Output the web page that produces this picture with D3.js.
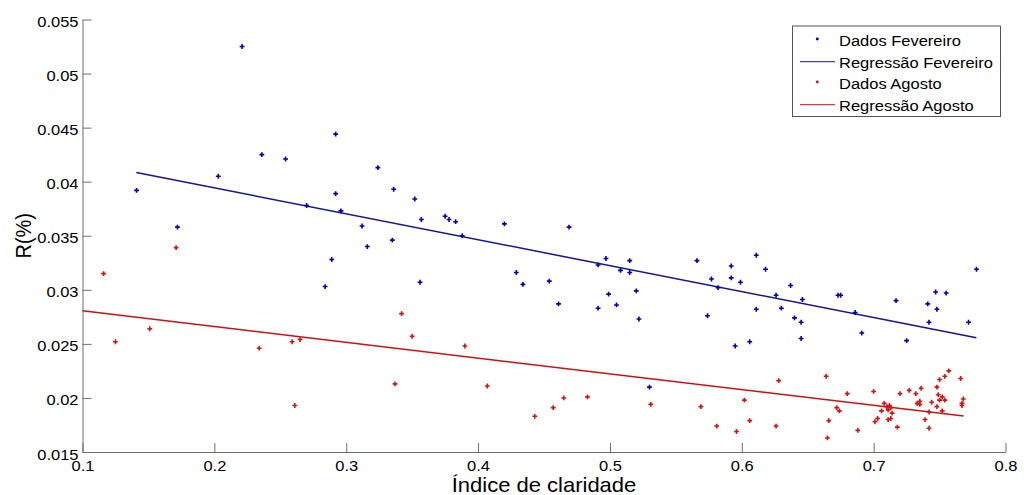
<!DOCTYPE html>
<html>
<head>
<meta charset="utf-8">
<script src="https://cdn.jsdelivr.net/npm/d3@7"></script>
<style>
  html, body { margin: 0; padding: 0; background: #fff; }
  svg { display: block; font-family: "Liberation Sans", Arial, sans-serif; }
</style>
</head>
<body>
<svg id="chart" width="1024" height="495"></svg>
<script>
// ---- Data ----
const febX = [0.221,0.141,0.172,0.203,0.236,0.254,0.292,0.292,0.270,0.296,0.312,0.324,0.336,0.335,0.352,0.357,0.375,0.378,0.383,0.388,0.420,0.469,0.284,0.289,0.316,0.356,0.429,0.434,0.454,0.461,0.491,0.497,0.491,0.499,0.508,0.515,0.515,0.505,0.520,0.522,0.530,0.566,0.577,0.582,0.574,0.611,0.592,0.618,0.592,0.599,0.637,0.626,0.646,0.611,0.630,0.640,0.645,0.645,0.595,0.606,0.673,0.675,0.686,0.691,0.717,0.725,0.747,0.755,0.741,0.748,0.742,0.772,0.778];
const febY = [0.0525,0.0392,0.0358,0.0405,0.0425,0.0421,0.0444,0.0389,0.0378,0.0373,0.0359,0.0413,0.0393,0.0346,0.0384,0.0365,0.0368,0.0365,0.0363,0.0350,0.0361,0.0358,0.0303,0.0328,0.0340,0.0307,0.0316,0.0305,0.0308,0.0287,0.0323,0.0329,0.0283,0.0296,0.0318,0.0327,0.0316,0.0286,0.0299,0.0273,0.0210,0.0327,0.0310,0.0302,0.0276,0.0332,0.0322,0.0319,0.0311,0.0307,0.0304,0.0295,0.0291,0.0282,0.0283,0.0274,0.0270,0.0255,0.0248,0.0252,0.0295,0.0295,0.0279,0.0260,0.0290,0.0253,0.0298,0.0297,0.0287,0.0282,0.0270,0.0270,0.0319];
const agoX = [0.116,0.125,0.171,0.151,0.234,0.259,0.265,0.261,0.342,0.337,0.350,0.390,0.407,0.443,0.457,0.465,0.483,0.531,0.569,0.581,0.596,0.602,0.606,0.626,0.628,0.664,0.665,0.666,0.672,0.674,0.680,0.688,0.700,0.701,0.703,0.706,0.708,0.710,0.711,0.712,0.713,0.714,0.711,0.713,0.718,0.720,0.727,0.732,0.736,0.733,0.735,0.735,0.739,0.742,0.744,0.748,0.748,0.749,0.750,0.750,0.752,0.752,0.754,0.754,0.757,0.766,0.768,0.767,0.767,0.742];
const agoY = [0.0315,0.0252,0.0339,0.0264,0.0246,0.0252,0.0254,0.0193,0.0278,0.0213,0.0257,0.0248,0.0211,0.0183,0.0191,0.0200,0.0201,0.0194,0.0192,0.0174,0.0169,0.0198,0.0179,0.0174,0.0216,0.0220,0.0163,0.0179,0.0191,0.0188,0.0204,0.0170,0.0206,0.0178,0.0181,0.0188,0.0195,0.0192,0.0189,0.0193,0.0191,0.0186,0.0180,0.0181,0.0173,0.0204,0.0207,0.0204,0.0209,0.0195,0.0194,0.0197,0.0180,0.0172,0.0196,0.0210,0.0192,0.0203,0.0217,0.0198,0.0201,0.0188,0.0220,0.0198,0.0225,0.0218,0.0199,0.0195,0.0193,0.0187];
const regFebX = [0.1408, 0.7779];
const regFebY = [0.04085, 0.02557];
const regAgoX = [0.100, 0.7682];
const regAgoY = [0.02806, 0.01832];
const xTicks = [0.1,0.2,0.3,0.4,0.5,0.6,0.7,0.8];
const yTicks = [0.015,0.02,0.025,0.03,0.035,0.04,0.045,0.05,0.055];
const legendLabels = ["Dados Fevereiro","Regressão Fevereiro","Dados Agosto","Regressão Agosto"];
const xLabel = "Índice de claridade";
const yLabel = "R(%)";

// ---- Layout ----
const L = 82.5, R = 1005.5, T = 19.5, B = 452;
const blueC = "#0000b4", blueLine = "#1414a0", redC = "#d21414", redLine = "#d01010";
const SX = 1.1;
const svg = d3.select("#chart");

const x = d3.scaleLinear().domain([0.1, 0.8]).range([L, R]);
const y = d3.scaleLinear().domain([0.015, 0.055]).range([B, T]);

// Axes
const gx = svg.append("g").attr("transform", `translate(0,${B})`)
  .call(d3.axisBottom(x).tickValues(xTicks).tickSize(-9).tickSizeOuter(0)
        .tickFormat(d => String(+d.toFixed(3))));
const gy = svg.append("g").attr("transform", `translate(${L},0)`)
  .call(d3.axisLeft(y).tickValues(yTicks).tickSize(-9).tickSizeOuter(0)
        .tickFormat(d => String(+d.toFixed(3))));
[gx, gy].forEach(g => {
  g.select(".domain").attr("stroke", "#6e6e6e").attr("stroke-width", 1);
  g.selectAll(".tick line").attr("stroke", "#6e6e6e").attr("stroke-width", 1);
  g.selectAll(".tick text").attr("fill", "#000").attr("font-size", 15)
    .attr("font-family", "Liberation Sans, Arial, sans-serif");
});
gx.selectAll(".tick text").attr("y", 0).attr("dy", null)
  .attr("transform", `translate(0,18.5) scale(${SX},1)`);
gy.selectAll(".tick text").attr("x", 0).attr("dy", null).attr("text-anchor", "end")
  .attr("transform", `translate(-4,7) scale(${SX},1)`);
gx.attr("font-size", 15); gy.attr("font-size", 15);

// Axis labels
svg.append("text").attr("text-anchor", "middle").attr("font-size", 20).attr("fill", "#000")
  .attr("transform", `translate(${(L + R) / 2},492) scale(${SX},1)`).text(xLabel);
svg.append("text").attr("text-anchor", "middle").attr("font-size", 20).attr("fill", "#000")
  .attr("transform", `translate(31,${(T + B) / 2}) rotate(-90) scale(1,${SX})`).text(yLabel);

// Regression lines
const line = d3.line().x(d => x(d[0])).y(d => y(d[1]));
svg.append("path").datum(d3.zip(regFebX, regFebY)).attr("d", line)
  .attr("fill", "none").attr("stroke", blueLine).attr("stroke-width", 1.5);
svg.append("path").datum(d3.zip(regAgoX, regAgoY)).attr("d", line)
  .attr("fill", "none").attr("stroke", redLine).attr("stroke-width", 1.5);

// Points
const sym = d3.symbol().type(d3.symbolCross).size(13);
svg.append("g").selectAll("path").data(d3.zip(febX, febY)).join("path")
  .attr("d", sym).attr("fill", blueC)
  .attr("transform", d => `translate(${x(d[0])},${y(d[1])})`);
svg.append("g").selectAll("path").data(d3.zip(agoX, agoY)).join("path")
  .attr("d", sym).attr("fill", redC)
  .attr("transform", d => `translate(${x(d[0])},${y(d[1])})`);

// Legend
const lg = svg.append("g");
lg.append("rect").attr("x", 792.5).attr("y", 26).attr("width", 208).attr("height", 90.5)
  .attr("fill", "#fff").attr("stroke", "#555").attr("stroke-width", 1);
const rows = [46, 67.7, 89, 110.7];
const kinds = [["dot", blueC], ["line", blueLine], ["dot", redC], ["line", redLine]];
rows.forEach((by, i) => {
  const [k, c] = kinds[i];
  if (k === "dot") {
    lg.append("path").attr("d", d3.symbol().type(d3.symbolCircle).size(7))
      .attr("fill", c).attr("transform", `translate(817.3,${by - 7})`);
  } else {
    lg.append("line").attr("x1", 800).attr("x2", 835).attr("y1", by - 6).attr("y2", by - 6)
      .attr("stroke", c).attr("stroke-width", 1);
  }
  lg.append("text").attr("font-size", 15).attr("fill", "#000")
    .attr("transform", `translate(839,${by}) scale(${SX},1)`).text(legendLabels[i]);
});
</script>
</body>
</html>
